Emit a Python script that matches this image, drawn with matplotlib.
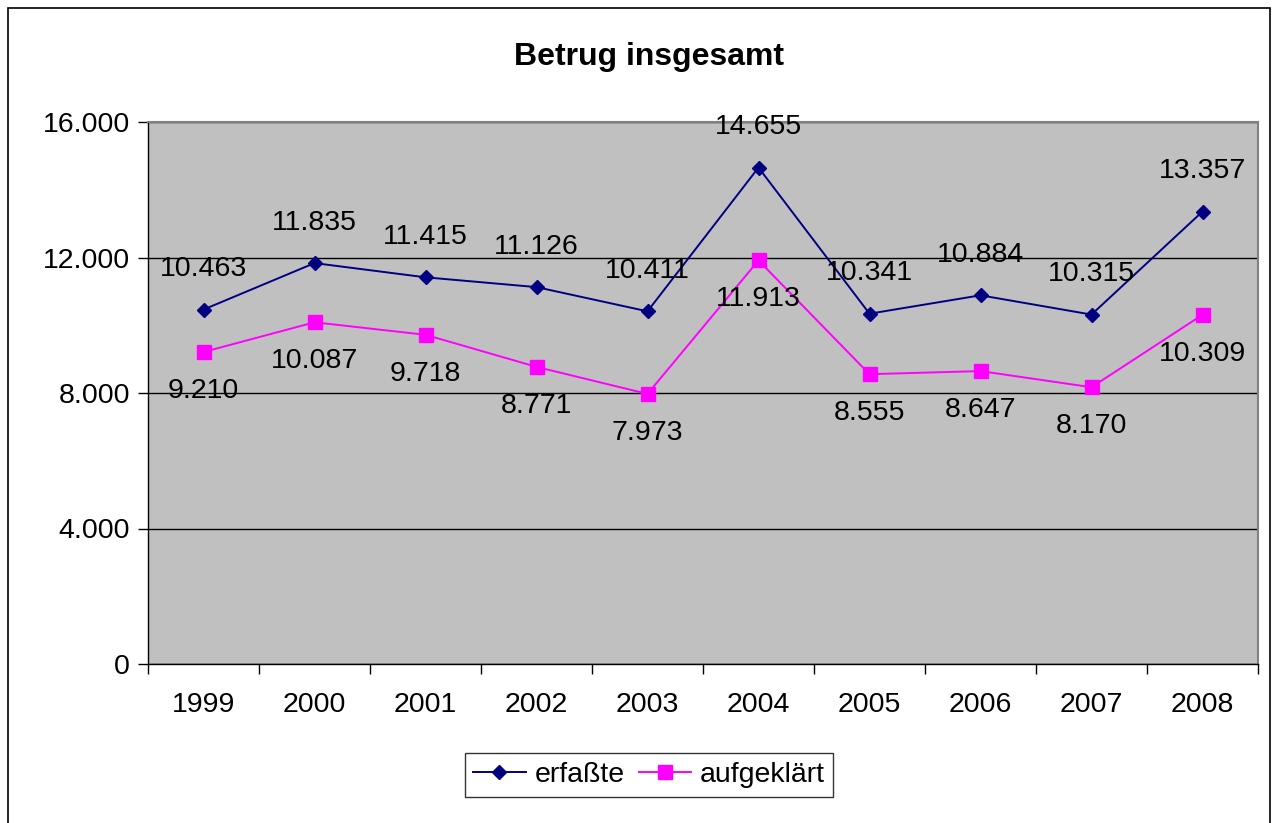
import matplotlib.pyplot as plt
from matplotlib.patches import Rectangle

years = ["1999", "2000", "2001", "2002", "2003", "2004", "2005", "2006", "2007", "2008"]
erfasste = [10463, 11835, 11415, 11126, 10411, 14655, 10341, 10884, 10315, 13357]
aufgeklaert = [9210, 10087, 9718, 8771, 7973, 11913, 8555, 8647, 8170, 10309]
y_ticks = [0, 4000, 8000, 12000, 16000]


def de_fmt(v):
    return f"{v:,}".replace(",", ".")


plt.rcParams["font.family"] = ["Liberation Sans", "DejaVu Sans"]
fs = 20.5

fig = plt.figure(figsize=(12.76, 8.23), dpi=100)
ax = fig.add_axes([148 / 1276, 1 - 664 / 823, (1258 - 148) / 1276, (664 - 122) / 823])
ax.set_facecolor("#C0C0C0")

x = list(range(len(years)))
ax.plot(x, erfasste, color="#000080", marker="D", markersize=7.5, lw=1.4, label="erfaßte", zorder=3)
ax.plot(x, aufgeklaert, color="#FF00FF", marker="s", markersize=9.5, lw=1.4, label="aufgeklärt", zorder=3)

for i, v in enumerate(erfasste):
    ax.annotate(de_fmt(v), (i, v), xytext=(0, 29), textcoords="offset points",
                ha="center", va="center", fontsize=fs, zorder=4)
for i, v in enumerate(aufgeklaert):
    ax.annotate(de_fmt(v), (i, v), xytext=(0, -28), textcoords="offset points",
                ha="center", va="center", fontsize=fs, zorder=4)

ax.set_xlim(-0.5, len(years) - 0.5)
ax.set_ylim(0, 16000)
ax.set_yticks(y_ticks)
ax.set_yticklabels([de_fmt(t) for t in y_ticks], fontsize=fs)
ax.set_xticks([i - 0.5 for i in range(len(years) + 1)])
ax.set_xticklabels([])
ax.set_xticks(x, minor=True)
ax.set_xticklabels(years, minor=True, fontsize=fs)
ax.tick_params(axis="x", which="minor", length=0, pad=20)
ax.tick_params(axis="x", which="major", length=7, width=1, direction="out")
ax.tick_params(axis="y", length=7, width=1, direction="out", pad=6)

ax.grid(axis="y", color="black", lw=1)
ax.set_axisbelow(True)
for side in ["top", "right"]:
    ax.spines[side].set_color("#808080")
    ax.spines[side].set_linewidth(1.5)
for side in ["left", "bottom"]:
    ax.spines[side].set_color("black")
    ax.spines[side].set_linewidth(1)

fig.text(649 / 1276, 1 - 57 / 823, "Betrug insgesamt", ha="center", va="center",
         fontsize=23, fontweight="bold")

leg = fig.legend(loc="center", bbox_to_anchor=(649 / 1276, 1 - 775 / 823), ncol=2,
                 fontsize=fs, frameon=True, fancybox=False, edgecolor="black",
                 handlelength=1.85, columnspacing=0.5, handletextpad=0.3, borderpad=0.3)
leg.get_frame().set_linewidth(1)

fig.patches.append(Rectangle((8 / 1276, -0.01), (1270 - 8) / 1276, 1 - 8 / 823 + 0.01,
                             transform=fig.transFigure, fill=False, edgecolor="black", lw=1.2))

fig.savefig("out.png", dpi=100)
